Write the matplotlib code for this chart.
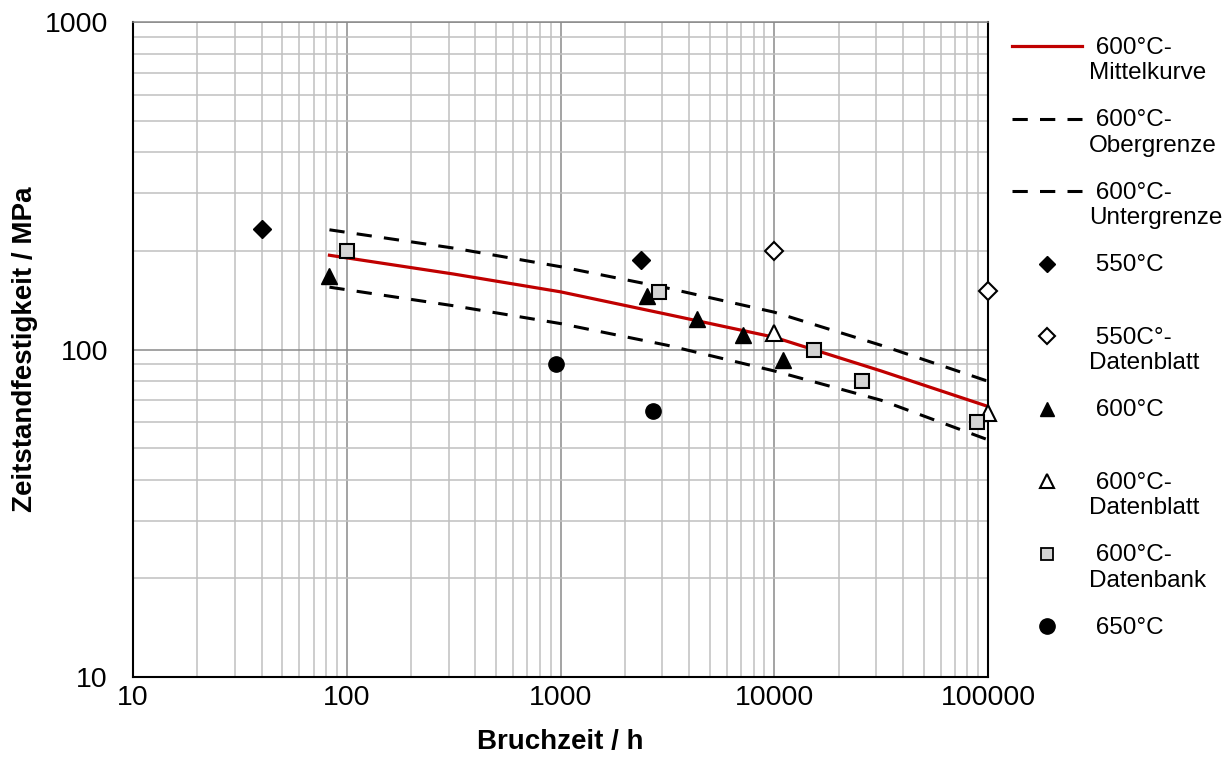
import matplotlib
matplotlib.use("Agg")
import matplotlib.pyplot as plt
from matplotlib.lines import Line2D
from matplotlib.ticker import FixedLocator, FuncFormatter, NullFormatter

plt.rcParams['font.family'] = ['Liberation Sans', 'DejaVu Sans']

# Kurven (600°C)
kurve_t = [83, 316, 1000, 3162, 10000, 31623, 100000]
mittel = [194, 170, 150, 128, 109, 86, 67]
ober = [232, 204, 179, 154, 130, 103, 80]
unter = [155, 136, 120, 103, 86, 70, 53]

# Messpunkte
t_550 = [40, 2380]
s_550 = [233, 188]
t_550_db = [10000, 100000]
s_550_db = [200, 151]
t_600 = [83, 2540, 4350, 7140, 11000]
s_600 = [168, 146, 124, 111, 93]
t_600_db = [10000, 100000]
s_600_db = [112, 64]
t_600_bank = [100, 2890, 15300, 25700, 88900]
s_600_bank = [200, 150, 100, 80, 60]
t_650 = [953, 2710]
s_650 = [90, 65]

x_ticks = [10, 100, 1000, 10000, 100000]
y_ticks = [10, 100, 1000]

legend_labels = [" 600°C-\nMittelkurve", " 600°C-\nObergrenze", " 600°C-\nUntergrenze",
                 " 550°C", " 550C°-\nDatenblatt", " 600°C", " 600°C-\nDatenblatt",
                 " 600°C-\nDatenbank", " 650°C"]

rot = '#c00000'
dash = (5, 4)
bank_farbe = '#d4d4d4'

fig = plt.figure(figsize=(12.3, 7.78), dpi=100)
ax = fig.add_axes([133/1230, 1 - 677/778, 855/1230, 655/778])
ax.set_xscale('log')
ax.set_yscale('log')
ax.set_xlim(10, 100000)
ax.set_ylim(10, 1000)

# Gitter
ax.grid(which='minor', color='#c0c0c0', lw=1.1, zorder=0)
ax.grid(which='major', color='#8a8a8a', lw=1.1, zorder=0)
ax.set_axisbelow(True)

ax.plot(kurve_t, mittel, color=rot, lw=2.3, zorder=3)
ax.plot(kurve_t, ober, color='black', lw=2.2, dashes=dash, zorder=3)
ax.plot(kurve_t, unter, color='black', lw=2.2, dashes=dash, zorder=3)

mk = dict(ls='none', zorder=4, clip_on=False)
ax.plot(t_550, s_550, marker='D', ms=9.5, mfc='black', mec='black', **mk)
ax.plot(t_550_db, s_550_db, marker='D', ms=9.5, mfc='white', mec='black', mew=1.5, **mk)
ax.plot(t_600, s_600, marker='^', ms=11, mfc='black', mec='black', **mk)
ax.plot(t_600_db, s_600_db, marker='^', ms=11, mfc='white', mec='black', mew=1.5, **mk)
ax.plot(t_600_bank, s_600_bank, marker='s', ms=10, mfc=bank_farbe, mec='black', mew=1.5, **mk)
ax.plot(t_650, s_650, marker='o', ms=11, mfc='black', mec='black', **mk)

ax.xaxis.set_major_locator(FixedLocator(x_ticks))
ax.yaxis.set_major_locator(FixedLocator(y_ticks))
ax.xaxis.set_minor_formatter(NullFormatter())
ax.yaxis.set_minor_formatter(NullFormatter())
fmt = FuncFormatter(lambda v, p: f"{int(round(v))}")
ax.xaxis.set_major_formatter(fmt)
ax.yaxis.set_major_formatter(fmt)
ax.tick_params(which='minor', length=0)
ax.tick_params(axis='x', which='major', length=0, pad=6, labelsize=20.5)
ax.tick_params(axis='y', which='major', length=0, pad=18, labelsize=20.5)

for s in ['left', 'bottom']:
    ax.spines[s].set_color('black')
    ax.spines[s].set_linewidth(1.5)
ax.spines['top'].set_color('#8a8a8a')
ax.spines['top'].set_linewidth(1.1)
ax.spines['right'].set_color('black')
ax.spines['right'].set_linewidth(1.5)

ax.set_xlabel('Bruchzeit / h', fontsize=20, fontweight='bold', va='center')
ax.xaxis.set_label_coords(0.5, -0.1)
ax.set_ylabel('Zeitstandfestigkeit / MPa', fontsize=20, fontweight='bold', va='center')
ax.yaxis.set_label_coords(-0.126, 0.5)

# Legende (manuell, gleichmäßige Zeilen)
W, H = 1230, 778
handles = [
    dict(kind='line', color=rot, lw=2.3),
    dict(kind='line', color='black', lw=2.2, dashes=dash),
    dict(kind='line', color='black', lw=2.2, dashes=dash),
    dict(kind='marker', marker='D', ms=8, mfc='black', mec='black', mew=1),
    dict(kind='marker', marker='D', ms=8, mfc='white', mec='black', mew=1.5),
    dict(kind='marker', marker='^', ms=9.5, mfc='black', mec='black', mew=1),
    dict(kind='marker', marker='^', ms=9.5, mfc='white', mec='black', mew=1.5),
    dict(kind='marker', marker='s', ms=8.5, mfc=bank_farbe, mec='black', mew=1.3),
    dict(kind='marker', marker='o', ms=11, mfc='black', mec='black', mew=1),
]
for i, (lab, h) in enumerate(zip(legend_labels, handles)):
    y = 1 - (46 + i * 72.5) / H
    if h['kind'] == 'line':
        kw = dict(color=h['color'], lw=h['lw'])
        if 'dashes' in h:
            kw['dashes'] = h['dashes']
        fig.add_artist(Line2D([1012 / W, 1082 / W], [y, y], transform=fig.transFigure, **kw))
    else:
        fig.add_artist(Line2D([1047 / W], [y], transform=fig.transFigure, ls='none',
                              marker=h['marker'], ms=h['ms'], mfc=h['mfc'], mec=h['mec'],
                              mew=h['mew']))
    fig.text(1089 / W, y + 0.012, lab, fontsize=17.5, ha='left', va='top', linespacing=1.2)

fig.savefig('out.png', dpi=100)
